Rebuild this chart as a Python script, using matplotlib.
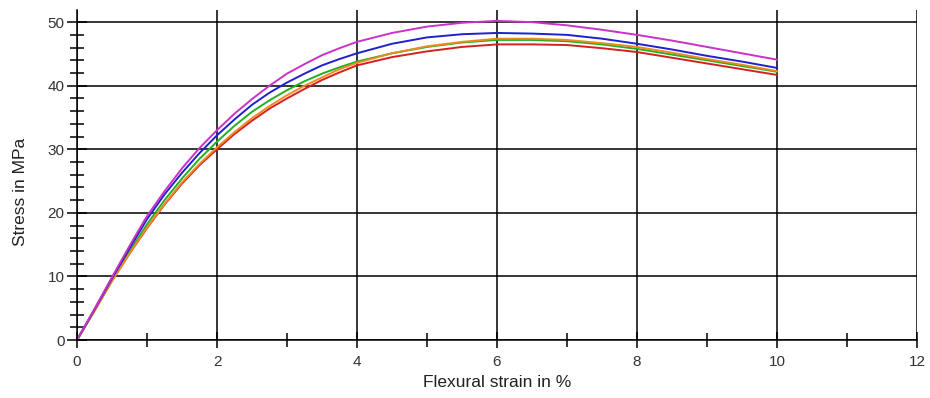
import numpy as np
import matplotlib.pyplot as plt
from matplotlib.ticker import MultipleLocator

strain = [0, 0.25, 0.5, 0.75, 1, 1.25, 1.5, 1.75, 2, 2.25, 2.5, 2.75, 3, 3.25, 3.5, 3.75, 4,
          4.5, 5, 5.5, 6, 6.5, 7, 7.5, 8, 8.5, 9, 9.5, 10]
red = [0, 4.6, 9.3, 13.6, 17.6, 21.3, 24.6, 27.5, 30.0, 32.4, 34.5, 36.4, 38.0, 39.5, 40.9, 42.1, 43.2,
       44.5, 45.4, 46.1, 46.5, 46.5, 46.4, 45.9, 45.3, 44.4, 43.5, 42.6, 41.7]
green = [0, 4.7, 9.4, 13.9, 18.2, 22.0, 25.4, 28.5, 31.2, 33.7, 35.9, 37.7, 39.3, 40.7, 41.9, 42.9, 43.8,
         45.1, 46.1, 46.8, 47.2, 47.2, 47.0, 46.5, 45.8, 44.9, 44.0, 43.1, 42.2]
orange = [0, 4.6, 9.3, 13.6, 17.7, 21.4, 24.8, 27.7, 30.3, 32.7, 34.9, 36.8, 38.5, 40.0, 41.3, 42.6, 43.6,
          45.1, 46.2, 46.9, 47.4, 47.4, 47.2, 46.7, 46.1, 45.2, 44.2, 43.3, 42.3]
blue = [0, 4.8, 9.7, 14.4, 19.0, 22.9, 26.3, 29.4, 32.2, 34.7, 37.0, 38.9, 40.5, 41.9, 43.2, 44.2, 45.1,
        46.6, 47.6, 48.1, 48.3, 48.2, 48.0, 47.4, 46.6, 45.7, 44.7, 43.8, 42.8]
magenta = [0, 4.9, 9.9, 14.8, 19.5, 23.4, 27.0, 30.2, 33.0, 35.6, 37.9, 40.0, 41.9, 43.4, 44.8, 45.9, 46.9,
           48.3, 49.3, 49.9, 50.2, 50.0, 49.5, 48.8, 48.0, 47.1, 46.1, 45.1, 44.1]

plt.rcParams['font.family'] = ['Liberation Sans', 'DejaVu Sans']

fig = plt.figure(figsize=(9.3, 3.98), dpi=100)
ax = fig.add_axes([0.0828, 0.1457, 0.9032, 0.829])

ax.plot(strain, red, color='#d42020', lw=1.4, solid_joinstyle='round')
ax.plot(strain, green, color='#22b022', lw=1.4, solid_joinstyle='round')
ax.plot(strain, orange, color='#ee8a22', lw=1.4, solid_joinstyle='round')
ax.plot(strain, blue, color='#2020cc', lw=1.4, solid_joinstyle='round')
ax.plot(strain, magenta, color='#c832c8', lw=1.4, solid_joinstyle='round')

ax.set_xlim(0, 12)
ax.set_ylim(0, 51.9)
ax.xaxis.set_major_locator(MultipleLocator(2))
ax.xaxis.set_minor_locator(MultipleLocator(1))
ax.yaxis.set_major_locator(MultipleLocator(10))
ax.yaxis.set_minor_locator(MultipleLocator(2))

ax.grid(True, which='major', color='black', lw=1.1)
ax.set_axisbelow(True)
for s in ['top', 'right']:
    ax.spines[s].set_visible(False)
for s in ['left', 'bottom']:
    ax.spines[s].set_linewidth(1.1)

ax.tick_params(which='major', direction='inout', length=12, width=1.1, labelsize=11,
               labelcolor='#333333', pad=5)
ax.tick_params(which='minor', direction='inout', length=10, width=1.1)
ax.tick_params(axis='y', which='major', length=14, pad=2)

ax.set_xlabel('Flexural strain in %', fontsize=12.5, color='#222222', labelpad=4)
ax.set_ylabel('Stress in MPa', fontsize=12.5, color='#222222')
ax.yaxis.set_label_coords(-0.058, 0.45)

fig.savefig('out.png', dpi=100)
